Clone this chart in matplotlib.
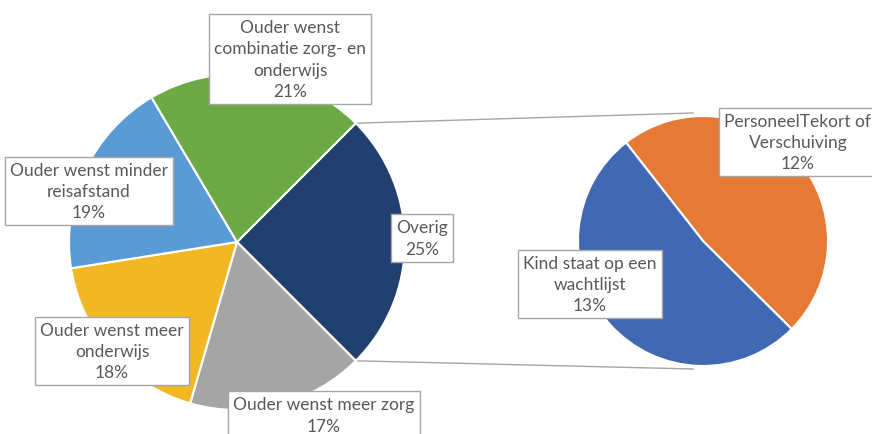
import numpy as np
import matplotlib
matplotlib.use('Agg')
import matplotlib.pyplot as plt

plt.rcParams['font.family'] = ['Lato', 'DejaVu Sans']

# main pie, clockwise from 45 deg
main_labels = ['Overig', 'Ouder wenst meer zorg', 'Ouder wenst meer\nonderwijs',
               'Ouder wenst minder\nreisafstand', 'Ouder wenst\ncombinatie zorg- en\nonderwijs']
main_vals = [25, 17, 18, 19, 21]
main_cols = ['#22406F', '#A5A5A5', '#F2B823', '#5B9BD5', '#6DAA45']

# secondary pie (split of Overig)
sub_labels = ['PersoneelTekort of\nVerschuiving', 'Kind staat op een\nwachtlijst']
sub_vals = [12, 13]
sub_cols = ['#E47A35', '#4169B3']

W, H = 872, 435
fig = plt.figure(figsize=(W / 100, H / 100), dpi=100)
ax = fig.add_axes([0, 0, 1, 1])

c1, r1 = (237, 192), 168
c2, r2 = (703, 193), 125
start1 = 45
start2 = 128

ax.pie(main_vals, colors=main_cols, startangle=start1, counterclock=False,
       center=c1, radius=r1, wedgeprops=dict(edgecolor='white', linewidth=1.5))
ax.pie(sub_vals, colors=sub_cols, startangle=start2, counterclock=False,
       center=c2, radius=r2, wedgeprops=dict(edgecolor='white', linewidth=1.5))

# connector lines from the Overig wedge to the secondary pie
a_top = np.deg2rad(start1)
a_bot = np.deg2rad(start1 - main_vals[0] / sum(main_vals) * 360)
p_top = (c1[0] + r1 * np.cos(a_top), c1[1] + r1 * np.sin(a_top))
p_bot = (c1[0] + r1 * np.cos(a_bot), c1[1] + r1 * np.sin(a_bot))
ax.plot([p_top[0], c2[0] - 10], [p_top[1], c2[1] + r2 + 3], color='#A6A6A6', lw=1, zorder=0)
ax.plot([p_bot[0], c2[0] - 10], [p_bot[1], c2[1] - r2 - 3], color='#A6A6A6', lw=1, zorder=0)

box = dict(boxstyle='square,pad=0.3', facecolor='white', edgecolor='#A6A6A6', linewidth=1)
main_pos = [(422, 196), (324, 19), (112, 83), (89, 243), (290, 375)]
for lab, v, pos in zip(main_labels, main_vals, main_pos):
    ax.text(pos[0], pos[1], f'{lab}\n{v}%', ha='center', va='center', fontsize=12.5,
            color='#595959', linespacing=1.4, bbox=box, zorder=5)

sub_pos = [(798, 292), (590, 150)]
for lab, v, pos in zip(sub_labels, sub_vals, sub_pos):
    ax.text(pos[0], pos[1], f'{lab}\n{v}%', ha='center', va='center', fontsize=12.5,
            color='#595959', linespacing=1.4, bbox=box, zorder=5)

ax.set_xlim(0, W)
ax.set_ylim(0, H)
ax.set_aspect('equal')
ax.axis('off')
fig.savefig('out.png', dpi=100)
